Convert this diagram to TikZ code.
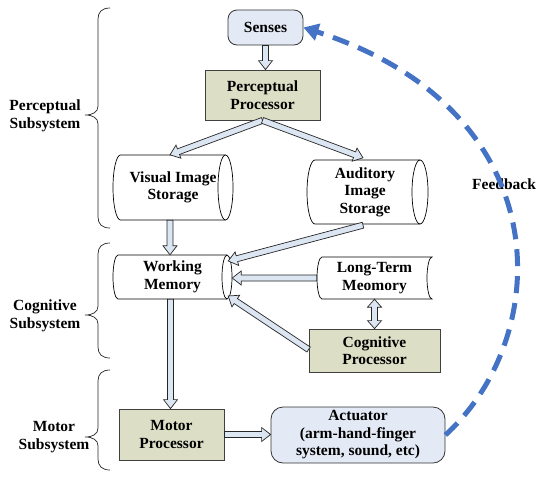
\documentclass[tikz,border=0pt]{standalone}
\usepackage{fontspec}
\setmainfont{Liberation Serif}
\usetikzlibrary{calc,arrows.meta}
\definecolor{olivebox}{HTML}{DCDFC6}
\definecolor{bluebox}{HTML}{E3EAF5}
\definecolor{arrowfill}{HTML}{DCE6F2}
\definecolor{fbblue}{HTML}{4472C4}
\tikzset{
 txt/.style={font=\fontsize{15.5}{17.5}\selectfont\bfseries, align=center, inner sep=0pt},
 olive/.style={txt, draw=black!75, fill=olivebox, line width=0.8pt},
 bluer/.style={txt, draw=black!80, fill=bluebox, rounded corners=9pt, line width=0.8pt},
 shapeline/.style={draw=black, line width=0.7pt, fill=white},
 blk/.style={draw=black!85, fill=arrowfill, line width=0.7pt},
 fb/.style={draw=fbblue, line width=5pt, dash pattern=on 17pt off 10pt, -{Triangle[length=15pt,width=17pt]}},
 bracestyle/.style={draw=black!85, line width=0.7pt},
}
\newcommand\blkarrow[2]{%
 \filldraw[blk] let \p1=(#1), \p2=(#2), \n1={atan2(\y2-\y1,\x2-\x1)}, \n2={veclen(\x2-\x1,\y2-\y1)-9} in
 ($(\p1)+(\n1+90:3pt)$) -- ($(\p1)+(\n1:\n2)+(\n1+90:3pt)$) -- ($(\p1)+(\n1:\n2)+(\n1+90:7pt)$) -- (\p2)
 -- ($(\p1)+(\n1:\n2)+(\n1-90:7pt)$) -- ($(\p1)+(\n1:\n2)+(\n1-90:3pt)$) -- ($(\p1)+(\n1-90:3pt)$) -- cycle;}
\newcommand\blkdarrow[2]{%
 \filldraw[blk] let \p1=(#1), \p2=(#2), \n1={atan2(\y2-\y1,\x2-\x1)}, \n2={veclen(\x2-\x1,\y2-\y1)-8} in
 (\p1) -- ($(\p1)+(\n1:8pt)+(\n1+90:7pt)$) -- ($(\p1)+(\n1:8pt)+(\n1+90:3pt)$)
 -- ($(\p1)+(\n1:\n2)+(\n1+90:3pt)$) -- ($(\p1)+(\n1:\n2)+(\n1+90:7pt)$) -- (\p2)
 -- ($(\p1)+(\n1:\n2)+(\n1-90:7pt)$) -- ($(\p1)+(\n1:\n2)+(\n1-90:3pt)$)
 -- ($(\p1)+(\n1:8pt)+(\n1-90:3pt)$) -- ($(\p1)+(\n1:8pt)+(\n1-90:7pt)$) -- cycle;}
\newcommand\subbrace[3]{\draw[bracestyle] (110,#1) .. controls (102,#1) and (98,#1+4) .. (98,#1+11) -- (98,#2-9) .. controls (98,#2-3) and (93,#2) .. (85,#2) .. controls (93,#2) and (98,#2+3) .. (98,#2+9) -- (98,#3-11) .. controls (98,#3-4) and (102,#3) .. (110,#3);}
\begin{document}
\begin{tikzpicture}[x=1pt,y=-1pt]
\useasboundingbox[fill=white] (0,0) rectangle (540,480);
% braces
\subbrace{8}{115}{228}
\subbrace{243}{315}{358}
\subbrace{370}{437}{470}
% storage outlines
\draw[shapeline] (120.5,155) -- (225.5,155) arc[start angle=-90,end angle=90,x radius=7.5,y radius=32.5] -- (120.5,220) arc[start angle=90,end angle=270,x radius=7.5,y radius=32.5] -- cycle;
\draw[shapeline,fill=none] (225.5,220) arc[start angle=90,end angle=270,x radius=7.5,y radius=32.5];
\draw[shapeline] (315,160) -- (420,160) arc[start angle=-90,end angle=90,x radius=8,y radius=32] -- (315,224) arc[start angle=90,end angle=270,x radius=8,y radius=32] -- cycle;
\draw[shapeline,fill=none] (420,224) arc[start angle=90,end angle=270,x radius=8,y radius=32];
\draw[shapeline] (118,255) -- (227,255) arc[start angle=-90,end angle=90,x radius=5,y radius=22] -- (118,299) arc[start angle=90,end angle=270,x radius=5,y radius=22] -- cycle;
\draw[shapeline,fill=none] (227,299) arc[start angle=90,end angle=270,x radius=5,y radius=22];
\draw[shapeline] (322,257) -- (432,257) arc[start angle=-90,end angle=-270,x radius=5,y radius=21] -- (322,299) arc[start angle=90,end angle=270,x radius=5,y radius=21] -- cycle;
% nodes
\node[bluer, minimum width=75, minimum height=35] (sen) at (265.5,27.5) {Senses};
\node[olive, minimum width=115, minimum height=50] (pp) at (262.5,95) {Perceptual\\Processor};
\node[txt, minimum width=120, minimum height=65] (vis) at (173,187.5) {Visual Image\\Storage};
\node[txt, minimum width=121, minimum height=64] (aud) at (365,192) {Auditory\\Image\\Storage};
\node[txt, minimum width=119, minimum height=44] (wm) at (172.5,277) {Working\\Memory};
\node[txt, minimum width=115, minimum height=42] (ltm) at (374.5,278) {Long-Term\\Meomory};
\node[olive, minimum width=131, minimum height=43] (cp) at (374.5,350.5) {Cognitive\\Processor};
\node[olive, minimum width=105, minimum height=51] (mp) at (171.5,434.5) {Motor\\Processor};
\node[bluer, minimum width=174, minimum height=56, rounded corners=12pt] (act) at (358,435) {Actuator\\(arm-hand-finger\\system, sound, etc)};
\node[txt] (lp) at (45,116) {Perceptual\\Subsystem};
\node[txt] (lc) at (45,316) {Cognitive\\Subsystem};
\node[txt] (lm) at (54,437) {Motor\\Subsystem};
\node[txt] (lf) at (504,184) {Feedback};
% block arrows
\blkarrow{sen.south}{sen.south |- pp.north}
\blkarrow{pp.south}{$(vis.north)+(-3,0)$}
\blkarrow{pp.south}{$(aud.north)+(-2,-2)$}
\blkarrow{$(vis.south)+(-3,0)$}{$(vis.south |- wm.north)+(-3,0)$}
\blkarrow{$(aud.south)+(-2,1)$}{$(wm.east)+(-4,-16)$}
\blkarrow{ltm.west}{ltm.west -| wm.east}
\blkarrow{$(cp.west)+(0,-1)$}{$(wm.east)+(-4,19)$}
\blkdarrow{ltm.south}{ltm.south |- cp.north}
\blkarrow{$(wm.south)+(-2,0)$}{$(wm.south |- mp.north)+(-2,0)$}
\blkarrow{mp.east}{mp.east -| act.west}
% feedback
\draw[fb] (act.east) .. controls (555,335) and (560,110) .. (sen.east);
\end{tikzpicture}
\end{document}
